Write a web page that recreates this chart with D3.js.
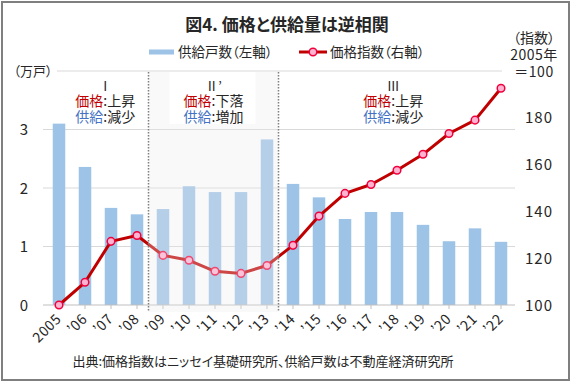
<!DOCTYPE html>
<html>
<head>
<meta charset="utf-8">
<script src="https://cdn.jsdelivr.net/npm/d3@7"></script>
<style>
  body { margin: 0; background: #fff; }
  svg text { font-family: "Noto Sans CJK JP", "Noto Sans", sans-serif; font-feature-settings: "palt"; fill: #262626; }
  svg text.plain { font-feature-settings: normal; }
</style>
</head>
<body>
<svg id="chart" width="573" height="384"></svg>
<script>
// values
const years = ['2005', '’06', '’07', '’08', '’09', '’10', '’11', '’12', '’13',
               '’14', '’15', '’16', '’17', '’18', '’19', '’20', '’21', '’22'];
const supply = [3.10, 2.36, 1.66, 1.55, 1.64, 2.03, 1.93, 1.93, 2.83,
                2.07, 1.84, 1.47, 1.59, 1.59, 1.37, 1.09, 1.31, 1.08];
const priceIndex = [100, 109.7, 127.2, 129.7, 121.2, 119.1, 114.4, 113.5, 116.9,
                    125.5, 138, 147.7, 151.5, 157.6, 164.4, 173.3, 179, 192.6];
const leftTicks = [0, 1, 2, 3];
const rightTicks = [100, 120, 140, 160, 180];
const periodNames = ['Ⅰ', 'Ⅱ’', 'Ⅲ'];
const periodStart = ['2005', '’09', '’14'];
const periodEnd = ['’08', '’13', '’22'];
const periodPrice = ['上昇', '下落', '上昇'];
const periodSupply = ['減少', '増加', '減少'];

const svg = d3.select('#chart');
const W = 573, H = 384;
const x0 = 46, x1 = 514, yBottom = 305, yTop = 71;

const x = d3.scalePoint().domain(years).range([x0, x1]).padding(0.5);
const barW = 12.5;
const yL = d3.scaleLinear().domain([0, 4]).range([yBottom, yTop]);
const yR = d3.scaleLinear().domain([100, 200]).range([yBottom, yTop]);

const RED = '#c00000', BLUE = '#4472c4', BAR = '#9dc3e6';

// frame
svg.append('rect').attr('x', 2).attr('y', 2).attr('width', W - 6).attr('height', H - 6)
    .attr('fill', '#fff').attr('stroke', '#7f7f7f').attr('stroke-width', 2);

// title
svg.append('text').attr('x', 287).attr('y', 31).attr('text-anchor', 'middle')
    .style('font-size', '17px').style('font-weight', 'bold')
    .text('図4. 価格と供給量は逆相関');

// legend
svg.append('rect').attr('x', 149).attr('y', 49.5).attr('width', 25).attr('height', 5).attr('fill', BAR);
svg.append('text').attr('x', 178).attr('y', 56.5).style('font-size', '13.5px').text('供給戸数（左軸）');
svg.append('line').attr('x1', 299).attr('x2', 327).attr('y1', 52).attr('y2', 52)
    .attr('stroke', RED).attr('stroke-width', 3);
svg.append('circle').attr('cx', 313).attr('cy', 52).attr('r', 3.8)
    .attr('fill', '#ffb3d1').attr('stroke', '#f0003c').attr('stroke-width', 1.5);
svg.append('text').attr('x', 330).attr('y', 56.5).style('font-size', '13.5px').text('価格指数（右軸）');

// unit labels
svg.append('text').attr('x', 33).attr('y', 76).attr('text-anchor', 'middle')
    .style('font-size', '13px').text('（万戸）');
const unitR = svg.append('g').attr('transform', 'translate(534,0)')
    .style('font-size', '14px').attr('text-anchor', 'middle');
unitR.append('text').attr('y', 43).text('（指数）');
unitR.append('text').attr('y', 60).style('letter-spacing', '0.5px').text('2005年');
unitR.append('text').attr('y', 77).style('letter-spacing', '0.5px').text('＝100');

// grid
svg.append('line').attr('x1', 57).attr('x2', 502).attr('y1', yTop).attr('y2', yTop)
    .attr('stroke', '#d9d9d9').attr('stroke-width', 1);
svg.append('g').selectAll('line').data(leftTicks.filter(d => d > 0)).join('line')
    .attr('x1', 43).attr('x2', 515)
    .attr('y1', d => yL(d)).attr('y2', d => yL(d))
    .attr('stroke', '#d9d9d9').attr('stroke-width', 1);

// bars
svg.append('g').selectAll('rect').data(years).join('rect')
    .attr('x', d => x(d) - barW / 2)
    .attr('width', barW)
    .attr('y', (d, i) => yL(supply[i]))
    .attr('height', (d, i) => yBottom - yL(supply[i]))
    .attr('fill', BAR);

// base axis line + ticks
svg.append('line').attr('x1', 43).attr('x2', 515).attr('y1', yBottom).attr('y2', yBottom)
    .attr('stroke', '#bfbfbf').attr('stroke-width', 1);
svg.append('g').selectAll('line').data(years).join('line')
    .attr('x1', d => x(d)).attr('x2', d => x(d))
    .attr('y1', yBottom).attr('y2', yBottom + 4)
    .attr('stroke', '#bfbfbf').attr('stroke-width', 1);

// price line
const line = d3.line().x((d, i) => x(years[i])).y(d => yR(d));
svg.append('path').attr('d', line(priceIndex))
    .attr('fill', 'none').attr('stroke', RED).attr('stroke-width', 3).attr('stroke-linejoin', 'round');
svg.append('g').selectAll('circle').data(priceIndex).join('circle')
    .attr('cx', (d, i) => x(years[i])).attr('cy', d => yR(d)).attr('r', 3.8)
    .attr('fill', '#ffb3d1').attr('stroke', '#f0003c').attr('stroke-width', 1.5);

// period boundaries
const boundary = k => (x(periodEnd[k]) + x(periodStart[k + 1])) / 2 - 1.5;
const b1 = boundary(0), b2 = boundary(1);
svg.append('rect').attr('x', b1).attr('y', yTop).attr('width', b2 - b1).attr('height', yBottom + 7 - yTop)
    .attr('fill', 'rgb(235,235,235)').attr('fill-opacity', 0.3);
svg.append('rect').attr('x', b1 + 21).attr('y', yTop + 1).attr('width', b2 - b1 - 44).attr('height', 52)
    .attr('fill', '#fff');
svg.append('g').selectAll('line').data([b1, b2]).join('line')
    .attr('x1', d => d).attr('x2', d => d)
    .attr('y1', yTop + 1).attr('y2', yBottom + 7)
    .attr('stroke', '#7f7f7f').attr('stroke-width', 1.5).attr('stroke-dasharray', '1.5,1.5');

// period labels
const centers = [(x0 + b1) / 2 + 8, (b1 + b2) / 2, (b2 + x1) / 2 - 3];
periodNames.forEach((name, k) => {
    const g = svg.append('g').attr('transform', `translate(${centers[k]},0)`)
        .attr('text-anchor', 'middle').style('font-size', '14px');
    g.append('text').attr('class', 'plain').attr('y', 91).style('font-size', '13px').text(name);
    const t1 = g.append('text').attr('class', 'plain').attr('y', 105.5);
    t1.append('tspan').style('fill', RED).text('価格');
    t1.append('tspan').text(':' + periodPrice[k]);
    const t2 = g.append('text').attr('class', 'plain').attr('y', 121.5);
    t2.append('tspan').style('fill', BLUE).text('供給');
    t2.append('tspan').text(':' + periodSupply[k]);
});

// axis labels
svg.append('g').selectAll('text').data(leftTicks).join('text')
    .attr('x', 29).attr('y', d => yL(d) + 5.5).attr('text-anchor', 'end')
    .style('font-size', '15px').style('letter-spacing', '1px').text(d => d);
svg.append('g').selectAll('text').data(rightTicks).join('text')
    .attr('x', 525).attr('y', d => yR(d) + 5.5)
    .style('font-size', '15px').style('letter-spacing', '1px').text(d => d);
svg.append('g').selectAll('text').data(years).join('text')
    .attr('transform', d => `translate(${x(d) + 3},320) rotate(-45)`)
    .attr('text-anchor', 'end')
    .style('font-size', '14px').style('letter-spacing', '0.5px').text(d => d);

// source
svg.append('text').attr('x', 263).attr('y', 366).attr('text-anchor', 'middle')
    .style('font-size', '13px').text('出典:価格指数はニッセイ基礎研究所、供給戸数は不動産経済研究所');
</script>
</body>
</html>
